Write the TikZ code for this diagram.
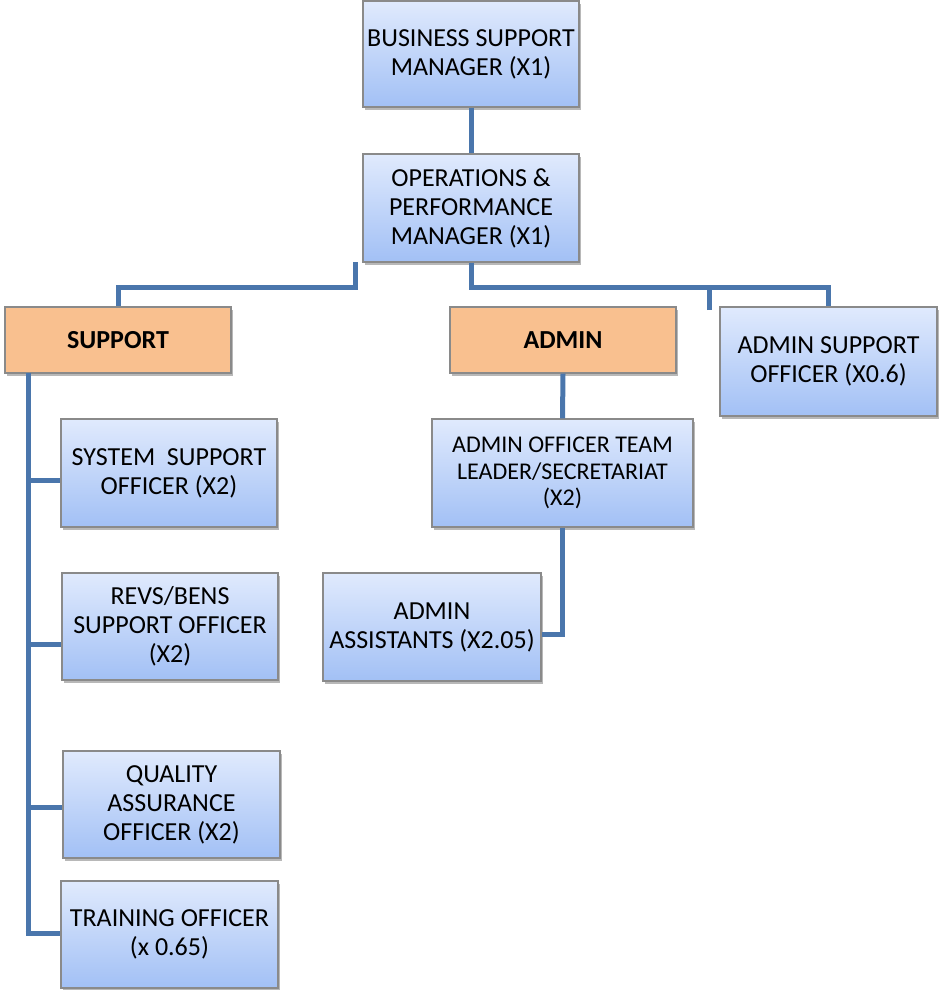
\documentclass[tikz,border=0pt]{standalone}
\usepackage{fontspec}
\setmainfont{Carlito}
\usetikzlibrary{shadows}
\definecolor{conncol}{HTML}{4A76AC}
\definecolor{boxtop}{HTML}{E0EAFD}
\definecolor{boxbot}{HTML}{A2C0F5}
\definecolor{boxline}{HTML}{8A8A8A}
\definecolor{orangefill}{HTML}{F9C08F}
\tikzset{
  bluebox/.style={draw=boxline, line width=1.2pt, top color=boxtop, bottom color=boxbot,
    align=center, inner sep=0pt, font=\fontsize{26}{29}\selectfont,
    drop shadow={shadow xshift=2pt, shadow yshift=-3pt, fill=black, opacity=0.28}},
  orangebox/.style={draw=boxline, line width=1.2pt, fill=orangefill,
    align=center, inner sep=0pt, font=\fontsize{26}{29}\selectfont\bfseries,
    drop shadow={shadow xshift=2pt, shadow yshift=-3pt, fill=black, opacity=0.28}},
  conn/.style={draw=conncol, line width=5pt},
}
\begin{document}
\begin{tikzpicture}[x=1pt,y=-1pt]
\useasboundingbox (0,0) rectangle (938,990);
% nodes
\node[bluebox, minimum width=216pt, minimum height=106pt] (bsm) at (471,54) {BUSINESS SUPPORT\\MANAGER (X1)};
\node[bluebox, minimum width=216pt, minimum height=108pt] (ops) at (471,208) {OPERATIONS \&\\PERFORMANCE\\MANAGER (X1)};
\node[orangebox, minimum width=226pt, minimum height=66pt] (sup) at (118,340) {SUPPORT};
\node[orangebox, minimum width=226pt, minimum height=66pt] (adm) at (563,340) {ADMIN};
\node[bluebox, minimum width=217pt, minimum height=109pt] (asup) at (828.5,361.5) {ADMIN SUPPORT\\OFFICER (X0.6)};
\node[bluebox, minimum width=216pt, minimum height=108pt] (sys) at (169,473) {SYSTEM\ \ SUPPORT\\OFFICER (X2)};
\node[bluebox, minimum width=216pt, minimum height=107pt] (revs) at (170,626.5) {REVS/BENS\\SUPPORT OFFICER\\(X2)};
\node[bluebox, minimum width=217pt, minimum height=107pt] (qa) at (171.5,804.5) {QUALITY\\ASSURANCE\\OFFICER (X2)};
\node[bluebox, minimum width=217pt, minimum height=107pt] (trn) at (169.5,934.5) {TRAINING OFFICER\\(x 0.65)};
\node[bluebox, minimum width=261pt, minimum height=108pt, font=\fontsize{24}{26.5}\selectfont] (atl) at (562.5,473) {ADMIN OFFICER TEAM\\LEADER/SECRETARIAT\\(X2)};
\node[bluebox, minimum width=218pt, minimum height=108pt] (aa) at (432,627) {ADMIN\\ASSISTANTS (X2.05)};
% free ends
\coordinate (lstub) at (355,262);
\coordinate (rstub) at (709,310);
\coordinate (trunktop) at (28,373);
\coordinate (trunkbot) at (28,935.5);
% connectors
\draw[conn] (bsm.south) -- (ops.north);
\draw[conn, line join=miter] (lstub) -- (355,287) -| (sup.north);
\draw[conn, line join=miter] (ops.south) |- (709,287) -| (asup.north);
\draw[conn] (rstub) -- (709,285);
\draw[conn] (trunktop) -- (trunkbot);
\draw[conn] (trunktop |- 0,480) -- (sys.west |- 0,480);
\draw[conn] (trunktop |- 0,644) -- (revs.west |- 0,644);
\draw[conn] (trunktop |- 0,807) -- (qa.west |- 0,807);
\draw[conn] (25.5,933) -- (trn.west |- 0,933);
\draw[conn] (adm.south) -- (atl.north);
\draw[conn, line join=miter] (atl.south) |- (aa.east |- 0,634);
\end{tikzpicture}
\end{document}
